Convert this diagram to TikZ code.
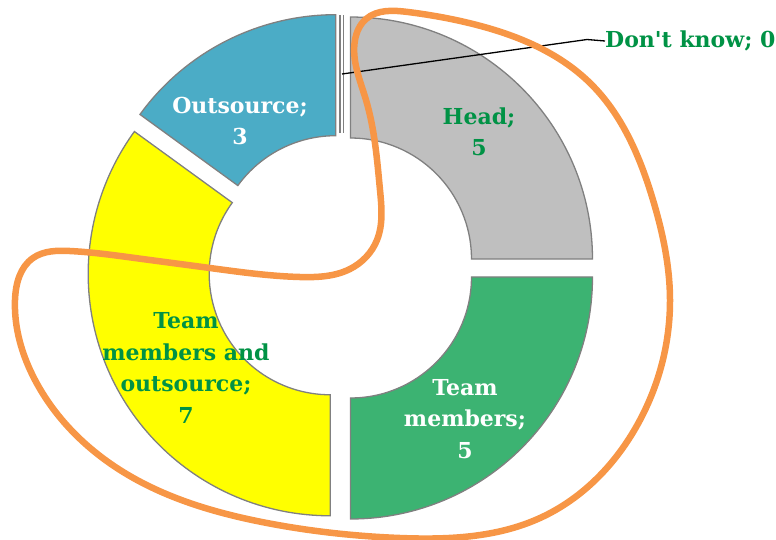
\documentclass[tikz,border=0pt]{standalone}
\usepackage{fontspec}
\setmainfont{DejaVu Serif}
\usetikzlibrary{calc,hobby}
\definecolor{segline}{RGB}{128,128,128}
\definecolor{headgray}{RGB}{191,191,191}
\definecolor{tmgreen}{RGB}{60,179,114}
\definecolor{toyellow}{RGB}{255,255,0}
\definecolor{osblue}{RGB}{75,172,198}
\definecolor{txtgreen}{RGB}{0,146,69}
\definecolor{looporange}{RGB}{247,150,70}
\newcommand\ringseg[4]{%
  \begin{scope}[shift={(C)}, shift={(#3:12.7)}]
    \path[seg, fill=#4] (#1:121) -- (#1:242)
      arc[start angle=#1, end angle=#2, radius=242] -- (#2:121)
      arc[start angle=#2, end angle=#1, radius=121] -- cycle;
  \end{scope}}
\begin{document}
\begin{tikzpicture}[x=1pt,y=1pt,
  seg/.style={draw=segline, line width=1.3pt, line join=miter},
  lbl/.style={font=\fontsize{22}{31.5}\selectfont\bfseries, align=center, inner sep=0pt},
  loopline/.style={draw=looporange, line width=6.5pt, line cap=round, line join=round},
  leader/.style={draw=black, line width=1.3pt}]
\useasboundingbox (0,0) rectangle (776,-539);
\coordinate (C) at (341.5,-268);
% segments
\ringseg{90}{0}{45}{headgray}
\ringseg{0}{-90}{-45}{tmgreen}
\ringseg{-90}{-216}{-153}{toyellow}
\ringseg{144}{90}{117}{osblue}
% zero wedge
\draw[segline, line width=1.1pt] (340,-15) -- (340,-133);
\draw[segline, line width=1.1pt] (343.3,-15) -- (343.3,-133);
% labels
\node[lbl, text=white] (os) at (240,-121) {Outsource;\\3};
\node[lbl, text=txtgreen] (hd) at (479,-132) {Head;\\5};
\node[lbl, text=white] (tm) at (465,-419) {Team\\members;\\5};
\node[lbl, text=txtgreen] (to) at (186,-368) {Team\\members and\\outsource;\\7};
\node[lbl, text=txtgreen, anchor=west] (dk) at (605,-41) {Don\textquotesingle t know; 0};
% leader
\coordinate (dkpt) at (342,-74);
\coordinate (dkbend) at (587,-39.5);
\draw[leader] (dkpt) -- (dkbend) -- (dk.west);
% orange loop
\draw[loopline, use Hobby shortcut, closed=true]
 (366,-19) .. (408,-12) .. (473,-24) .. (590,-83) .. (653,-200) .. (670,-300) .. (640,-420)
 .. (540,-518) .. (400,-538) .. (267,-523) .. (120,-470) .. (35,-380)
 .. (15,-300) .. (33,-258) .. (70,-251) .. (135,-258) .. (210,-268) .. (300,-277) .. (350,-269)
 .. (377,-240) .. (380,-190) .. (366,-100) .. (355,-40);
\end{tikzpicture}
\end{document}
